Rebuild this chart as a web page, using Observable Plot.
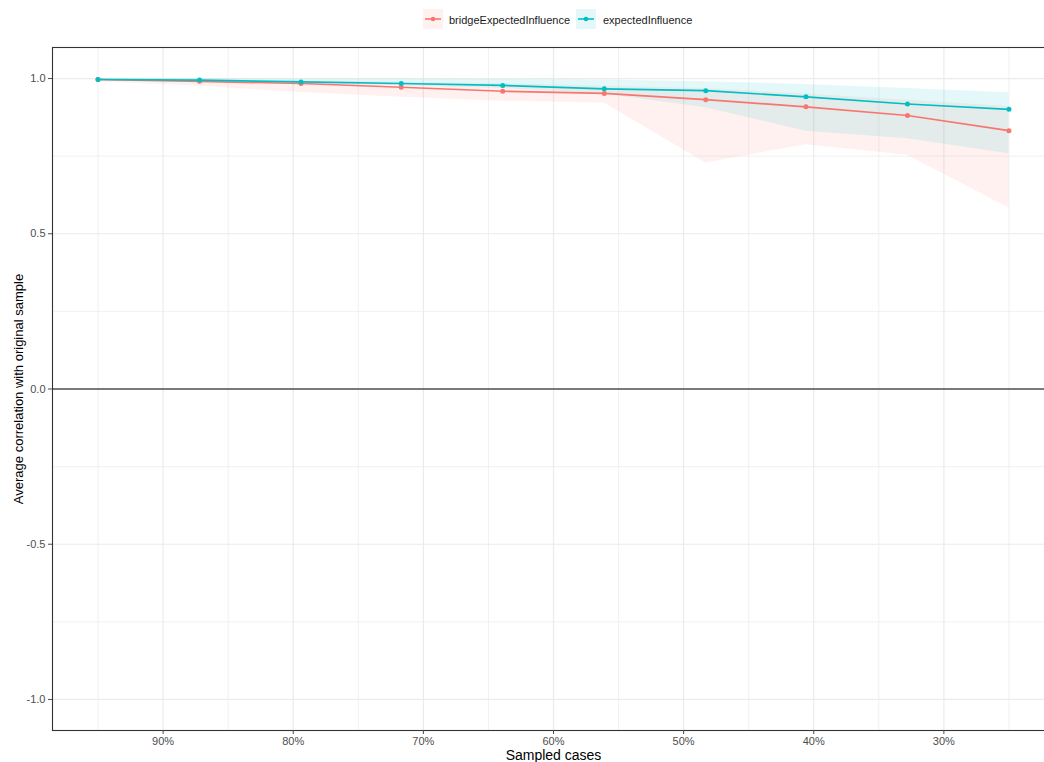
<!DOCTYPE html>
<html><head><meta charset="utf-8">
<script src="https://cdn.jsdelivr.net/npm/d3@7"></script>
<script src="https://cdn.jsdelivr.net/npm/@observablehq/plot@0.6"></script>
<style>
html,body{margin:0;padding:0;background:#fff;overflow:hidden;width:1044px;height:762px;}
#wrap{position:relative;width:1044px;height:762px;overflow:hidden;font-family:"Liberation Sans",Arial,sans-serif;}
#legend{position:absolute;left:0;top:0;height:36px;width:1044px;}
#chart{position:absolute;left:0;top:36px;width:1070px;}
#chart svg{max-width:none !important;}
.key{position:absolute;top:9px;width:20px;height:20px;}
.lab{position:absolute;top:13px;font-size:11px;line-height:14px;color:#1a1a1a;white-space:nowrap;}
</style></head><body>
<div id="wrap"><div id="legend"></div><div id="chart"></div></div>
<script>
// Sampled proportion of cases (x positions)
const sampled = [0.95, 0.872, 0.794, 0.717, 0.639, 0.561, 0.483, 0.406, 0.328, 0.25];
const seriesNames = ["bridgeExpectedInfluence", "expectedInfluence"];
const seriesColors = ["#F8766D", "#00BFC4"];
// bridgeExpectedInfluence: mean, lower, upper
const bridgeMean  = [0.997, 0.991, 0.984, 0.972, 0.959, 0.952, 0.932, 0.909, 0.881, 0.832];
const bridgeLower = [0.990, 0.975, 0.955, 0.940, 0.927, 0.921, 0.728, 0.787, 0.753, 0.583];
const bridgeUpper = [0.999, 0.997, 0.993, 0.988, 0.984, 0.975, 0.968, 0.950, 0.930, 0.910];
// expectedInfluence: mean, lower, upper
const eiMean  = [0.997, 0.995, 0.989, 0.984, 0.978, 0.967, 0.961, 0.941, 0.918, 0.901];
const eiLower = [0.993, 0.990, 0.983, 0.977, 0.968, 0.950, 0.906, 0.830, 0.806, 0.758];
const eiUpper = [1.000, 0.999, 0.998, 0.998, 0.997, 0.995, 0.990, 0.981, 0.968, 0.954];
// axis ticks / gridlines
const majorX = [0.9, 0.8, 0.7, 0.6, 0.5, 0.4, 0.3];
const minorX = [0.95, 0.85, 0.75, 0.65, 0.55, 0.45, 0.35, 0.25];
const majorY = [-1, -0.5, 0, 0.5, 1];
const minorY = [-0.75, -0.25, 0.25, 0.75];
const xTitle = "Sampled cases";
const yTitle = "Average correlation with original sample";

const rows = [];
sampled.forEach((p, i) => {
  rows.push({series: seriesNames[0], p, y: bridgeMean[i], lo: bridgeLower[i], hi: bridgeUpper[i]});
});
sampled.forEach((p, i) => {
  rows.push({series: seriesNames[1], p, y: eiMean[i], lo: eiLower[i], hi: eiUpper[i]});
});

// Legend (HTML)
const legend = document.getElementById("legend");
const legendPos = [{key: 423, lab: 449}, {key: 576, lab: 603}];
seriesNames.forEach((name, i) => {
  const c = seriesColors[i];
  const k = document.createElement("div");
  k.className = "key";
  k.style.left = legendPos[i].key + "px";
  k.innerHTML = `<svg width="20" height="20"><rect width="20" height="20" fill="${c}" fill-opacity="0.1"/><line x1="2" x2="18" y1="10" y2="10" stroke="${c}" stroke-width="1.6"/><circle cx="10" cy="10" r="2.3" fill="${c}"/></svg>`;
  legend.appendChild(k);
  const t = document.createElement("div");
  t.className = "lab";
  t.style.left = legendPos[i].lab + "px";
  t.textContent = name;
  legend.appendChild(t);
});

const chart = Plot.plot({
  width: 1070,
  height: 726,
  marginLeft: 52,
  marginRight: 16,
  marginTop: 11,
  marginBottom: 32,
  style: {fontFamily: "Liberation Sans, Arial, sans-serif", fontSize: "11px", color: "#4d4d4d", background: "#fff", overflow: "visible", maxWidth: "none"},
  x: {domain: [0.985, 0.215]},
  y: {domain: [-1.1, 1.1]},
  color: {domain: seriesNames, range: seriesColors},
  marks: [
    Plot.ruleX(minorX, {stroke: "#ebebeb", strokeWidth: 0.7}),
    Plot.ruleX(majorX, {stroke: "#ebebeb", strokeWidth: 1.2}),
    Plot.ruleY(minorY, {stroke: "#ebebeb", strokeWidth: 0.7}),
    Plot.ruleY(majorY, {stroke: "#ebebeb", strokeWidth: 1.2}),
    Plot.ruleY([0], {stroke: "#000", strokeWidth: 1.1}),
    Plot.areaY(rows, {x: "p", y1: "lo", y2: "hi", z: "series", fill: "series", fillOpacity: 0.1}),
    Plot.line(rows, {x: "p", y: "y", z: "series", stroke: "series", strokeWidth: 1.7}),
    Plot.dot(rows, {x: "p", y: "y", fill: "series", r: 2.5}),
    Plot.frame({stroke: "#333", strokeWidth: 1.1}),
    Plot.axisX({ticks: majorX, tickFormat: d => Math.round(d * 100) + "%", tickSize: 4, tickPadding: 3, label: null}),
    Plot.axisY({ticks: majorY, tickFormat: d => d.toFixed(1), tickSize: 4, tickPadding: 3, label: null}),
    Plot.text([xTitle], {text: d => d, frameAnchor: "bottom", dy: 25, lineAnchor: "middle", fontSize: 14, fill: "#000"}),
    Plot.text([yTitle], {text: d => d, frameAnchor: "left", dx: -34, rotate: -90, textAnchor: "middle", lineAnchor: "middle", fontSize: 13, fill: "#000"})
  ]
});
document.getElementById("chart").appendChild(chart);
</script>
</body></html>
